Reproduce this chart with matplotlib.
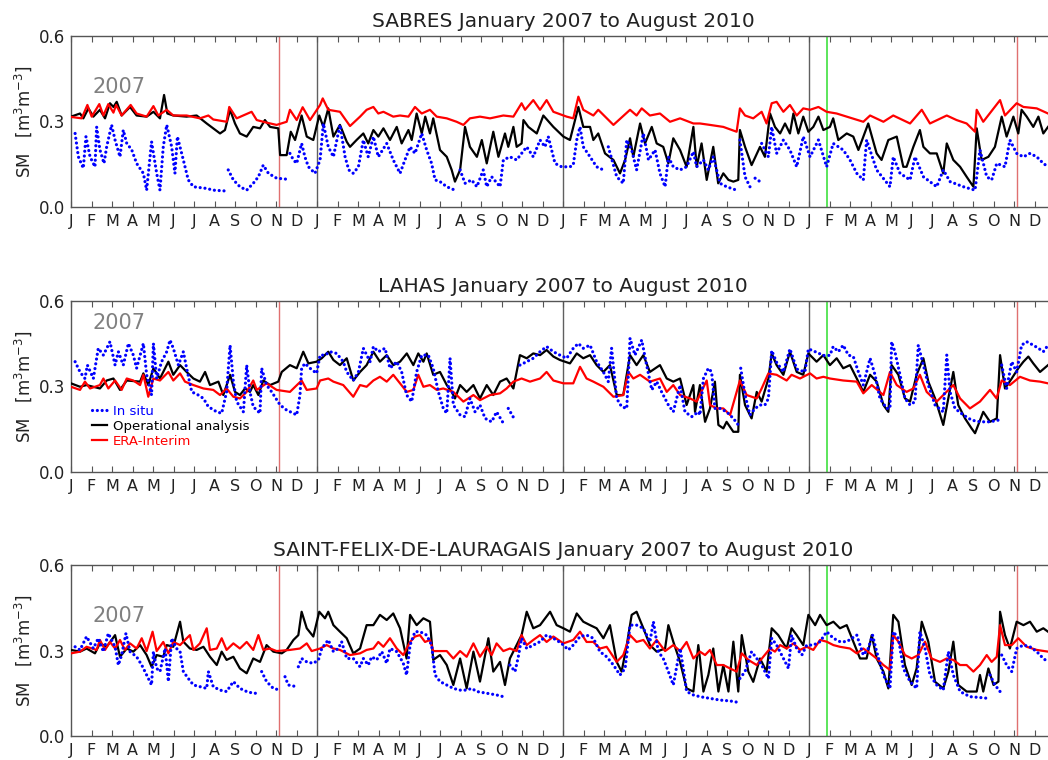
import numpy as np
import matplotlib
matplotlib.use('Agg')
import matplotlib.pyplot as plt
from matplotlib.lines import Line2D

nan = float('nan')

# x = months since 1 January 2007, y = soil moisture (m3/m3); (nan, nan) = gap in the record
sites = ['SABRES', 'LAHAS', 'SAINT-FELIX-DE-LAURAGAIS']
month_letters = list('JFMAMJJASOND')
year_starts = [12, 24, 36]
red_marks = [10.15, 46.15]
green_marks = [36.9]
series_names = ['In situ', 'Operational analysis', 'ERA-Interim']

sab_situ = [
    (0.20, 0.257), (0.36, 0.175), (0.60, 0.135), (0.73, 0.246), (0.93, 0.175), (1.17, 0.14), (1.25, 0.28),
    (1.41, 0.2), (1.61, 0.152), (1.74, 0.21), (1.98, 0.287), (2.15, 0.234), (2.39, 0.175), (2.55, 0.269),
    (2.72, 0.222), (2.96, 0.2), (3.20, 0.152), (3.53, 0.117), (3.69, 0.058), (3.93, 0.228), (4.18, 0.117),
    (4.34, 0.058), (4.50, 0.21), (4.67, 0.287), (4.91, 0.21), (5.07, 0.117), (5.19, 0.246), (5.48, 0.164),
    (5.72, 0.094), (5.97, 0.07), (6.62, 0.064), (6.94, 0.058), (7.59, 0.055), (nan, nan),
    (7.67, 0.129), (7.92, 0.094), (8.24, 0.07), (8.57, 0.058), (8.89, 0.082), (9.14, 0.105), (9.38, 0.146),
    (9.63, 0.117), (10.03, 0.1), (10.60, 0.096), (nan, nan),
    (10.68, 0.187), (10.85, 0.164), (11.01, 0.152), (11.25, 0.222), (11.41, 0.175), (11.58, 0.14),
    (11.90, 0.117), (12.15, 0.164), (12.31, 0.292), (12.55, 0.21), (12.80, 0.175), (13.12, 0.287),
    (13.37, 0.175), (13.55, 0.129), (13.77, 0.117), (14.02, 0.14), (14.26, 0.234), (14.50, 0.175),
    (14.75, 0.246), (14.99, 0.175), (15.40, 0.222), (15.72, 0.164), (16.05, 0.117), (16.29, 0.164),
    (16.54, 0.21), (16.78, 0.187), (17.11, 0.257), (17.35, 0.199), (17.59, 0.152), (17.76, 0.094),
    (18.00, 0.088), (18.33, 0.07), (18.73, 0.058), (nan, nan),
    (18.98, 0.129), (19.22, 0.082), (19.54, 0.094), (19.80, 0.07), (20.11, 0.129), (20.28, 0.07),
    (20.52, 0.105), (20.93, 0.07), (21.09, 0.164), (21.41, 0.175), (21.74, 0.164), (21.98, 0.187),
    (22.23, 0.21), (22.55, 0.175), (22.88, 0.234), (23.12, 0.21), (23.28, 0.246), (23.61, 0.152),
    (23.93, 0.14), (24.34, 0.14), (24.50, 0.146), (24.67, 0.234), (24.83, 0.28), (24.99, 0.21),
    (25.32, 0.175), (25.64, 0.14), (25.97, 0.129), (nan, nan),
    (26.21, 0.21), (26.62, 0.105), (26.94, 0.082), (27.11, 0.234), (27.35, 0.199), (27.59, 0.129),
    (27.92, 0.257), (28.17, 0.164), (28.49, 0.199), (28.73, 0.117), (28.98, 0.07), (29.14, 0.175),
    (29.38, 0.14), (29.71, 0.129), (30.03, 0.14), (30.36, 0.193), (30.52, 0.14), (30.85, 0.164),
    (31.09, 0.129), (31.33, 0.175), (31.66, 0.082), (31.98, 0.07), (32.47, 0.058), (nan, nan),
    (32.63, 0.234), (32.88, 0.105), (33.12, 0.07), (nan, nan),
    (33.37, 0.1), (33.61, 0.088), (nan, nan),
    (33.69, 0.222), (34.02, 0.175), (34.18, 0.28), (34.42, 0.187), (34.75, 0.234), (35.07, 0.199),
    (35.40, 0.14), (35.72, 0.246), (36.05, 0.175), (36.46, 0.234), (36.86, 0.14), (37.18, 0.222),
    (37.67, 0.199), (38.00, 0.164), (38.33, 0.117), (38.65, 0.094), (38.81, 0.234), (39.30, 0.129),
    (39.95, 0.07), (40.11, 0.175), (40.44, 0.117), (40.93, 0.094), (41.17, 0.175), (41.58, 0.105),
    (42.23, 0.07), (42.55, 0.129), (42.88, 0.088), (43.53, 0.07), (44.10, 0.058), (44.34, 0.199),
    (44.67, 0.105), (44.91, 0.094), (45.16, 0.152), (45.56, 0.14), (45.80, 0.234), (46.13, 0.187),
    (46.46, 0.175), (46.78, 0.187), (47.11, 0.175), (47.43, 0.152), (47.66, 0.14),
]

sab_oa = [
    (0.00, 0.316), (0.44, 0.327), (0.60, 0.31), (0.85, 0.345), (1.09, 0.316), (1.41, 0.34), (1.66, 0.31),
    (1.90, 0.363), (2.07, 0.35), (2.23, 0.368), (2.47, 0.32), (2.88, 0.35), (3.20, 0.32), (3.69, 0.316),
    (4.02, 0.333), (4.34, 0.31), (4.54, 0.392), (4.70, 0.327), (4.99, 0.32), (5.64, 0.316), (6.13, 0.32),
    (6.62, 0.292), (7.27, 0.257), (7.51, 0.269), (7.76, 0.34), (8.00, 0.292), (8.24, 0.257), (8.57, 0.246),
    (8.89, 0.28), (9.22, 0.275), (9.46, 0.304), (9.71, 0.28), (10.11, 0.275), (10.20, 0.181),
    (10.52, 0.181), (10.72, 0.263), (10.93, 0.234), (11.25, 0.32), (11.50, 0.246), (11.82, 0.234),
    (12.11, 0.32), (12.31, 0.28), (12.55, 0.345), (12.80, 0.246), (13.12, 0.287), (13.45, 0.228),
    (13.61, 0.21), (13.93, 0.234), (14.26, 0.257), (14.50, 0.222), (14.75, 0.269), (14.99, 0.246),
    (15.24, 0.275), (15.56, 0.234), (15.89, 0.28), (16.13, 0.222), (16.46, 0.269), (16.62, 0.234),
    (16.86, 0.327), (17.11, 0.257), (17.28, 0.316), (17.51, 0.257), (17.67, 0.31), (18.00, 0.199),
    (18.33, 0.175), (18.57, 0.129), (18.73, 0.088), (18.98, 0.129), (19.22, 0.28), (19.46, 0.21),
    (19.80, 0.175), (20.04, 0.234), (20.28, 0.152), (20.60, 0.263), (20.85, 0.175), (21.17, 0.257),
    (21.33, 0.21), (21.58, 0.28), (21.74, 0.21), (21.98, 0.222), (22.07, 0.304), (22.31, 0.28),
    (22.72, 0.257), (23.04, 0.32), (23.53, 0.28), (24.02, 0.246), (24.34, 0.234), (24.59, 0.304),
    (24.75, 0.35), (24.99, 0.28), (25.32, 0.28), (25.48, 0.234), (25.72, 0.257), (26.05, 0.187),
    (26.46, 0.164), (26.78, 0.117), (27.03, 0.164), (27.27, 0.24), (27.43, 0.175), (27.76, 0.292),
    (28.00, 0.222), (28.33, 0.28), (28.57, 0.222), (28.89, 0.21), (29.14, 0.152), (29.38, 0.24),
    (29.71, 0.199), (30.03, 0.14), (30.36, 0.28), (30.52, 0.14), (30.76, 0.222), (31.01, 0.094),
    (31.33, 0.21), (31.57, 0.082), (31.82, 0.117), (32.07, 0.094), (32.31, 0.088), (32.55, 0.094),
    (32.63, 0.269), (32.88, 0.21), (33.20, 0.146), (33.61, 0.21), (33.85, 0.175), (34.10, 0.327),
    (34.34, 0.28), (34.59, 0.257), (34.83, 0.292), (35.07, 0.257), (35.24, 0.327), (35.48, 0.257),
    (35.72, 0.316), (35.97, 0.263), (36.21, 0.28), (36.46, 0.316), (36.70, 0.269), (37.02, 0.28),
    (37.18, 0.31), (37.43, 0.234), (37.84, 0.257), (38.16, 0.246), (38.41, 0.199), (38.89, 0.292),
    (39.30, 0.187), (39.54, 0.164), (39.87, 0.234), (40.28, 0.246), (40.60, 0.14), (40.76, 0.14),
    (41.09, 0.21), (41.41, 0.269), (41.58, 0.21), (41.90, 0.187), (42.23, 0.187), (42.55, 0.117),
    (42.72, 0.222), (43.04, 0.164), (43.37, 0.14), (43.69, 0.105), (44.02, 0.07), (44.18, 0.275),
    (44.42, 0.164), (44.75, 0.175), (45.07, 0.21), (45.40, 0.316), (45.64, 0.246), (45.97, 0.316),
    (46.21, 0.257), (46.37, 0.34), (46.62, 0.316), (46.94, 0.28), (47.19, 0.316), (47.43, 0.257),
    (47.66, 0.28),
]

sab_era = [
    (0.00, 0.315), (0.52, 0.31), (0.80, 0.357), (1.01, 0.316), (1.38, 0.36), (1.58, 0.32), (1.82, 0.36),
    (2.07, 0.33), (2.20, 0.357), (2.47, 0.32), (2.91, 0.357), (3.20, 0.327), (3.69, 0.316), (4.02, 0.353),
    (4.26, 0.32), (4.67, 0.34), (4.99, 0.32), (5.64, 0.32), (6.29, 0.31), (6.70, 0.32), (6.94, 0.306),
    (7.59, 0.298), (7.72, 0.35), (8.08, 0.31), (8.81, 0.333), (9.06, 0.304), (9.54, 0.295), (10.03, 0.287),
    (10.52, 0.298), (10.68, 0.34), (11.01, 0.304), (11.30, 0.349), (11.66, 0.304), (12.15, 0.357),
    (12.28, 0.38), (12.55, 0.34), (13.12, 0.333), (13.61, 0.283), (14.10, 0.316), (14.42, 0.34),
    (14.75, 0.35), (14.99, 0.327), (15.24, 0.333), (15.72, 0.316), (16.05, 0.32), (16.46, 0.316),
    (16.78, 0.35), (17.11, 0.327), (17.51, 0.34), (17.84, 0.316), (18.33, 0.31), (18.81, 0.298),
    (19.14, 0.287), (19.46, 0.31), (19.95, 0.316), (20.44, 0.31), (21.09, 0.32), (21.58, 0.316),
    (21.98, 0.363), (22.15, 0.34), (22.55, 0.374), (22.88, 0.34), (23.20, 0.374), (23.53, 0.333),
    (24.18, 0.316), (24.50, 0.31), (24.75, 0.386), (24.99, 0.34), (25.48, 0.32), (25.72, 0.34),
    (26.46, 0.287), (27.27, 0.34), (27.59, 0.32), (27.84, 0.345), (28.24, 0.32), (28.73, 0.327),
    (29.22, 0.298), (29.71, 0.31), (30.36, 0.292), (30.68, 0.292), (31.17, 0.287), (31.82, 0.28),
    (32.47, 0.263), (32.63, 0.345), (32.88, 0.32), (33.28, 0.31), (33.69, 0.333), (33.93, 0.292),
    (34.18, 0.363), (34.42, 0.368), (34.75, 0.333), (35.07, 0.357), (35.40, 0.32), (35.72, 0.345),
    (36.05, 0.34), (36.46, 0.35), (36.86, 0.333), (37.35, 0.327), (37.84, 0.316), (38.65, 0.298),
    (38.98, 0.32), (39.63, 0.298), (40.11, 0.32), (40.93, 0.292), (41.50, 0.34), (41.90, 0.292),
    (42.72, 0.32), (43.20, 0.304), (43.69, 0.292), (44.10, 0.263), (44.18, 0.34), (44.50, 0.298),
    (45.32, 0.374), (45.56, 0.32), (46.13, 0.363), (46.46, 0.35), (47.11, 0.345), (47.66, 0.327),
]

lah_situ = [
    (0.20, 0.386), (0.44, 0.35), (0.68, 0.327), (0.80, 0.374), (1.09, 0.327), (1.33, 0.433), (1.58, 0.409),
    (1.90, 0.456), (2.15, 0.374), (2.31, 0.421), (2.55, 0.374), (2.80, 0.45), (3.04, 0.409), (3.20, 0.363),
    (3.53, 0.45), (3.69, 0.34), (3.93, 0.269), (4.02, 0.45), (4.18, 0.327), (4.42, 0.386), (4.67, 0.421),
    (4.83, 0.462), (4.99, 0.433), (5.24, 0.374), (5.48, 0.421), (5.64, 0.363), (5.89, 0.28), (6.21, 0.269),
    (6.46, 0.257), (6.70, 0.228), (7.11, 0.21), (7.35, 0.205), (7.59, 0.28), (7.76, 0.444), (7.92, 0.316),
    (8.08, 0.246), (8.41, 0.21), (8.57, 0.374), (8.73, 0.28), (8.89, 0.228), (9.22, 0.205), (9.30, 0.363),
    (9.54, 0.304), (9.79, 0.28), (10.20, 0.234), (10.52, 0.216), (10.85, 0.205), (11.01, 0.199),
    (11.17, 0.269), (11.25, 0.363), (11.41, 0.38), (11.66, 0.363), (11.98, 0.345), (12.15, 0.409),
    (12.39, 0.409), (12.63, 0.421), (12.96, 0.415), (13.28, 0.386), (13.45, 0.35), (13.77, 0.32),
    (14.02, 0.35), (14.26, 0.433), (14.59, 0.386), (14.75, 0.439), (14.99, 0.421), (15.32, 0.433),
    (15.56, 0.363), (15.89, 0.386), (16.13, 0.35), (16.37, 0.269), (16.62, 0.246), (16.86, 0.35),
    (17.11, 0.409), (17.43, 0.409), (17.67, 0.363), (17.92, 0.28), (18.16, 0.222), (18.33, 0.205),
    (18.49, 0.398), (18.65, 0.234), (18.98, 0.199), (19.22, 0.193), (19.46, 0.257), (19.71, 0.21),
    (19.95, 0.234), (20.20, 0.187), (20.52, 0.175), (20.76, 0.21), (21.09, 0.17), (nan, nan),
    (21.33, 0.222), (21.66, 0.181), (nan, nan),
    (21.90, 0.374), (22.23, 0.386), (22.55, 0.398), (22.88, 0.421), (23.20, 0.439), (23.53, 0.421),
    (23.85, 0.409), (24.18, 0.398), (24.50, 0.433), (24.75, 0.45), (24.99, 0.433), (25.32, 0.444),
    (25.64, 0.386), (25.97, 0.35), (26.21, 0.316), (26.37, 0.433), (26.62, 0.257), (26.86, 0.228),
    (27.11, 0.222), (27.27, 0.468), (27.51, 0.409), (27.84, 0.462), (28.08, 0.374), (28.33, 0.287),
    (28.57, 0.316), (28.81, 0.28), (29.14, 0.234), (29.38, 0.21), (29.71, 0.304), (29.95, 0.21),
    (30.28, 0.193), (30.60, 0.21), (30.68, 0.199), (30.85, 0.327), (31.09, 0.363), (31.25, 0.35),
    (31.41, 0.222), (31.66, 0.222), (31.98, 0.21), (32.31, 0.187), (32.55, 0.164), (nan, nan),
    (32.67, 0.363), (32.88, 0.269), (33.12, 0.199), (33.37, 0.222), (33.61, 0.234), (33.85, 0.234),
    (34.02, 0.257), (34.18, 0.425), (34.42, 0.384), (34.75, 0.35), (35.07, 0.431), (35.40, 0.36),
    (35.80, 0.35), (35.97, 0.431), (36.37, 0.419), (36.70, 0.408), (37.02, 0.408), (37.18, 0.439),
    (37.43, 0.421), (37.67, 0.444), (37.92, 0.409), (38.16, 0.404), (38.41, 0.35), (38.65, 0.304),
    (38.98, 0.398), (39.22, 0.34), (39.46, 0.257), (39.79, 0.222), (39.95, 0.222), (40.03, 0.456),
    (40.19, 0.421), (40.44, 0.34), (40.68, 0.257), (40.93, 0.234), (41.17, 0.246), (41.33, 0.444),
    (41.58, 0.374), (41.82, 0.304), (42.15, 0.234), (42.55, 0.21), (42.72, 0.409), (42.88, 0.28),
    (43.12, 0.222), (43.53, 0.199), (43.93, 0.181), (44.34, 0.175), (44.83, 0.175), (45.24, 0.181),
    (nan, nan),
    (45.40, 0.374), (45.64, 0.292), (45.89, 0.386), (46.13, 0.35), (46.37, 0.444), (46.62, 0.456),
    (46.94, 0.444), (47.19, 0.433), (47.43, 0.421), (47.66, 0.444),
]

lah_oa = [
    (0.00, 0.31), (0.44, 0.298), (0.76, 0.304), (1.41, 0.292), (1.74, 0.32), (2.07, 0.327), (2.39, 0.287),
    (2.72, 0.32), (3.37, 0.316), (3.53, 0.345), (3.77, 0.304), (4.02, 0.363), (4.34, 0.327), (4.75, 0.386),
    (4.99, 0.34), (5.32, 0.374), (5.64, 0.35), (5.97, 0.327), (6.29, 0.316), (6.54, 0.35), (6.78, 0.304),
    (7.19, 0.316), (7.43, 0.269), (7.76, 0.34), (8.00, 0.28), (8.24, 0.269), (8.49, 0.292), (8.73, 0.28),
    (8.89, 0.304), (9.14, 0.269), (9.38, 0.32), (9.71, 0.304), (10.11, 0.316), (10.28, 0.35),
    (10.68, 0.374), (11.01, 0.363), (11.33, 0.421), (11.58, 0.38), (11.98, 0.386), (12.23, 0.398),
    (12.55, 0.421), (12.80, 0.392), (13.12, 0.374), (13.45, 0.398), (13.77, 0.32), (14.10, 0.35),
    (14.42, 0.374), (14.75, 0.421), (15.07, 0.386), (15.40, 0.409), (15.72, 0.374), (16.05, 0.386),
    (16.38, 0.415), (16.70, 0.374), (16.94, 0.415), (17.19, 0.386), (17.35, 0.415), (17.67, 0.34),
    (18.00, 0.35), (18.33, 0.304), (18.57, 0.28), (18.73, 0.257), (18.98, 0.304), (19.30, 0.28),
    (19.63, 0.304), (19.95, 0.257), (20.28, 0.304), (20.60, 0.269), (20.93, 0.316), (21.25, 0.327),
    (21.58, 0.292), (21.90, 0.409), (22.23, 0.398), (22.55, 0.415), (22.88, 0.409), (23.20, 0.427),
    (23.53, 0.404), (23.85, 0.392), (24.34, 0.38), (24.67, 0.415), (24.99, 0.398), (25.32, 0.409),
    (25.64, 0.374), (25.97, 0.35), (26.29, 0.374), (26.62, 0.269), (26.94, 0.269), (27.27, 0.409),
    (27.59, 0.374), (27.92, 0.409), (28.24, 0.35), (28.73, 0.374), (29.06, 0.327), (29.38, 0.316),
    (29.71, 0.327), (30.03, 0.234), (30.36, 0.304), (30.44, 0.21), (30.68, 0.304), (30.93, 0.175),
    (31.17, 0.222), (31.41, 0.316), (31.58, 0.164), (31.82, 0.152), (31.98, 0.175), (32.31, 0.14),
    (32.55, 0.14), (32.63, 0.34), (32.88, 0.234), (33.20, 0.187), (33.45, 0.28), (33.69, 0.246),
    (34.02, 0.327), (34.18, 0.415), (34.42, 0.374), (34.75, 0.34), (35.07, 0.421), (35.40, 0.35),
    (35.72, 0.34), (35.97, 0.415), (36.37, 0.386), (36.70, 0.409), (37.02, 0.374), (37.35, 0.398),
    (37.67, 0.363), (38.00, 0.374), (38.33, 0.327), (38.65, 0.28), (38.98, 0.34), (39.30, 0.316),
    (39.63, 0.234), (39.87, 0.21), (40.03, 0.374), (40.36, 0.34), (40.68, 0.257), (40.93, 0.246),
    (41.25, 0.34), (41.58, 0.398), (41.82, 0.316), (42.15, 0.257), (42.55, 0.164), (43.04, 0.35),
    (43.28, 0.234), (43.61, 0.187), (43.93, 0.152), (44.10, 0.135), (44.50, 0.21), (44.83, 0.175),
    (45.16, 0.187), (45.32, 0.409), (45.56, 0.292), (45.89, 0.327), (46.21, 0.363), (46.46, 0.386),
    (46.70, 0.404), (46.94, 0.38), (47.27, 0.35), (47.66, 0.374),
]

lah_era = [
    (0.00, 0.298), (0.44, 0.287), (0.68, 0.316), (0.93, 0.292), (1.41, 0.304), (1.58, 0.327), (1.82, 0.292),
    (2.15, 0.32), (2.47, 0.287), (2.72, 0.327), (3.04, 0.32), (3.37, 0.304), (3.53, 0.34), (3.77, 0.263),
    (4.02, 0.327), (4.34, 0.32), (4.75, 0.35), (4.99, 0.32), (5.32, 0.345), (5.56, 0.316), (5.97, 0.304),
    (6.46, 0.292), (6.94, 0.287), (7.27, 0.269), (7.59, 0.292), (7.92, 0.263), (8.24, 0.257), (8.57, 0.28),
    (8.89, 0.32), (9.06, 0.287), (9.54, 0.31), (10.03, 0.287), (10.68, 0.28), (11.25, 0.32), (11.50, 0.287),
    (11.98, 0.292), (12.15, 0.32), (12.55, 0.327), (12.80, 0.316), (13.28, 0.304), (13.77, 0.263),
    (14.10, 0.304), (14.42, 0.298), (14.75, 0.32), (15.07, 0.333), (15.40, 0.316), (15.72, 0.34),
    (16.05, 0.31), (16.38, 0.28), (16.70, 0.287), (16.94, 0.34), (17.19, 0.298), (17.51, 0.304),
    (17.84, 0.287), (18.16, 0.292), (18.65, 0.28), (19.14, 0.246), (19.63, 0.269), (19.95, 0.251),
    (20.44, 0.269), (20.93, 0.275), (21.25, 0.292), (21.58, 0.316), (21.98, 0.327), (22.39, 0.316),
    (22.88, 0.327), (23.20, 0.35), (23.53, 0.32), (24.02, 0.31), (24.50, 0.31), (24.83, 0.368),
    (25.15, 0.327), (25.48, 0.316), (25.97, 0.298), (26.46, 0.263), (26.94, 0.269), (27.19, 0.35),
    (27.43, 0.327), (27.76, 0.34), (28.24, 0.316), (28.73, 0.327), (29.06, 0.28), (29.38, 0.304),
    (29.71, 0.269), (30.20, 0.257), (30.52, 0.246), (31.01, 0.32), (31.17, 0.234), (31.50, 0.222),
    (31.82, 0.222), (32.15, 0.199), (32.63, 0.32), (32.96, 0.269), (33.45, 0.257), (33.69, 0.292),
    (34.02, 0.345), (34.42, 0.34), (34.91, 0.32), (35.15, 0.34), (35.56, 0.327), (36.05, 0.345),
    (36.37, 0.327), (36.70, 0.333), (37.02, 0.327), (37.67, 0.32), (38.33, 0.316), (38.65, 0.275),
    (39.06, 0.304), (39.63, 0.269), (39.95, 0.35), (40.28, 0.304), (40.76, 0.28), (41.09, 0.292),
    (41.41, 0.34), (41.74, 0.28), (42.23, 0.246), (43.04, 0.304), (43.37, 0.257), (43.85, 0.222),
    (44.34, 0.246), (44.83, 0.287), (45.15, 0.257), (45.40, 0.32), (45.80, 0.304), (46.29, 0.333),
    (46.78, 0.32), (47.27, 0.316), (47.66, 0.31),
]

sfl_situ = [
    (0.20, 0.313), (0.44, 0.302), (0.76, 0.349), (1.09, 0.307), (1.33, 0.343), (1.58, 0.296), (1.82, 0.36),
    (2.15, 0.313), (2.31, 0.249), (2.47, 0.284), (2.68, 0.36), (2.88, 0.296), (3.20, 0.278), (3.45, 0.249),
    (3.69, 0.214), (3.93, 0.179), (4.02, 0.296), (4.18, 0.237), (4.34, 0.226), (4.59, 0.307), (4.75, 0.191),
    (4.91, 0.343), (5.15, 0.307), (5.32, 0.296), (5.48, 0.226), (5.72, 0.202), (5.97, 0.179),
    (6.29, 0.173), (6.62, 0.167), (6.70, 0.226), (6.94, 0.173), (7.27, 0.161), (7.59, 0.156),
    (7.92, 0.191), (8.24, 0.167), (8.57, 0.156), (8.89, 0.15), (9.22, 0.15), (nan, nan),
    (9.30, 0.226), (9.54, 0.191), (9.87, 0.167), (10.20, 0.161), (nan, nan),
    (10.44, 0.208), (10.60, 0.179), (11.01, 0.173), (nan, nan),
    (11.09, 0.243), (11.25, 0.272), (11.50, 0.26), (11.82, 0.255), (12.07, 0.267), (12.23, 0.307),
    (12.55, 0.337), (12.80, 0.296), (13.04, 0.307), (13.20, 0.331), (13.45, 0.272), (13.77, 0.272),
    (14.10, 0.243), (14.26, 0.272), (14.50, 0.249), (14.67, 0.278), (14.91, 0.267), (15.16, 0.296),
    (15.40, 0.255), (15.56, 0.307), (15.89, 0.296), (16.21, 0.255), (16.37, 0.214), (16.54, 0.319),
    (16.78, 0.366), (17.02, 0.366), (17.35, 0.354), (17.59, 0.319), (17.76, 0.214), (18.00, 0.191),
    (18.33, 0.179), (18.65, 0.167), (18.98, 0.161), (19.30, 0.161), (19.54, 0.167), (19.80, 0.156),
    (20.28, 0.15), (20.76, 0.144), (21.09, 0.138), (nan, nan),
    (21.41, 0.249), (21.66, 0.226), (21.82, 0.278), (21.98, 0.343), (22.23, 0.307), (22.55, 0.319),
    (22.88, 0.331), (23.20, 0.354), (23.53, 0.343), (23.93, 0.325), (24.26, 0.302), (24.50, 0.319),
    (24.83, 0.349), (25.15, 0.354), (25.48, 0.343), (25.80, 0.296), (26.13, 0.278), (26.46, 0.249),
    (26.78, 0.214), (27.03, 0.237), (27.27, 0.389), (27.59, 0.389), (27.92, 0.378), (28.24, 0.331),
    (28.41, 0.401), (28.65, 0.296), (28.89, 0.272), (29.14, 0.226), (29.38, 0.179), (29.71, 0.307),
    (29.87, 0.237), (30.03, 0.156), (30.36, 0.144), (30.68, 0.138), (31.17, 0.132), (31.66, 0.126),
    (32.15, 0.123), (32.55, 0.118), (nan, nan),
    (32.63, 0.202), (32.88, 0.226), (33.20, 0.296), (33.45, 0.272), (33.69, 0.249), (34.02, 0.202),
    (34.18, 0.343), (34.42, 0.319), (34.75, 0.272), (35.00, 0.237), (35.15, 0.354), (35.40, 0.307),
    (35.65, 0.284), (35.89, 0.319), (36.21, 0.319), (36.54, 0.331), (36.86, 0.366), (37.19, 0.343),
    (37.51, 0.331), (37.84, 0.331), (38.33, 0.354), (38.65, 0.284), (38.89, 0.307), (39.10, 0.354),
    (39.30, 0.296), (39.63, 0.214), (39.95, 0.167), (40.11, 0.366), (40.36, 0.343), (40.60, 0.237),
    (40.93, 0.191), (41.25, 0.167), (41.41, 0.366), (41.66, 0.307), (41.90, 0.214), (42.23, 0.179),
    (42.55, 0.161), (42.80, 0.296), (43.04, 0.214), (43.37, 0.156), (43.85, 0.138), (44.34, 0.135),
    (44.75, 0.132), (nan, nan),
    (44.83, 0.214), (45.07, 0.179), (45.32, 0.156), (nan, nan),
    (45.40, 0.284), (45.64, 0.249), (45.89, 0.226), (46.13, 0.307), (46.46, 0.319), (46.78, 0.313),
    (47.11, 0.296), (47.43, 0.272), (47.66, 0.26),
]

sfl_oa = [
    (0.00, 0.302), (0.44, 0.296), (0.76, 0.307), (1.17, 0.29), (1.41, 0.325), (1.74, 0.313), (2.15, 0.354),
    (2.39, 0.278), (2.72, 0.307), (3.04, 0.296), (3.37, 0.319), (3.69, 0.284), (3.93, 0.243), (4.18, 0.284),
    (4.50, 0.278), (4.67, 0.319), (4.99, 0.313), (5.32, 0.401), (5.48, 0.331), (5.80, 0.307), (6.13, 0.302),
    (6.46, 0.313), (6.78, 0.278), (7.11, 0.249), (7.35, 0.296), (7.59, 0.267), (7.92, 0.278), (8.24, 0.237),
    (8.57, 0.22), (8.89, 0.272), (9.22, 0.26), (9.54, 0.319), (9.87, 0.296), (10.28, 0.29), (10.52, 0.302),
    (10.85, 0.337), (11.09, 0.354), (11.25, 0.436), (11.50, 0.378), (11.82, 0.349), (12.11, 0.436),
    (12.39, 0.413), (12.55, 0.436), (12.80, 0.389), (13.12, 0.366), (13.45, 0.343), (13.77, 0.29),
    (14.10, 0.307), (14.42, 0.389), (14.75, 0.389), (15.07, 0.425), (15.40, 0.407), (15.72, 0.43),
    (16.05, 0.378), (16.37, 0.272), (16.54, 0.425), (16.86, 0.389), (17.19, 0.413), (17.51, 0.401),
    (17.67, 0.267), (18.00, 0.284), (18.33, 0.249), (18.65, 0.179), (18.98, 0.272), (19.30, 0.167),
    (19.63, 0.296), (19.95, 0.191), (20.36, 0.343), (20.60, 0.226), (20.93, 0.26), (21.17, 0.179),
    (21.41, 0.272), (21.74, 0.319), (21.98, 0.354), (22.23, 0.436), (22.55, 0.378), (22.88, 0.389),
    (23.37, 0.436), (23.69, 0.389), (24.02, 0.378), (24.34, 0.366), (24.67, 0.43), (24.99, 0.401),
    (25.32, 0.389), (25.64, 0.378), (25.97, 0.343), (26.29, 0.389), (26.62, 0.26), (26.86, 0.226),
    (27.11, 0.319), (27.35, 0.425), (27.59, 0.436), (27.92, 0.378), (28.24, 0.319), (28.57, 0.296),
    (28.98, 0.307), (29.14, 0.389), (29.38, 0.331), (29.71, 0.26), (30.03, 0.167), (30.36, 0.156),
    (30.60, 0.319), (30.68, 0.272), (30.85, 0.156), (31.09, 0.214), (31.33, 0.307), (31.58, 0.156),
    (31.82, 0.249), (32.07, 0.156), (32.31, 0.331), (32.55, 0.156), (32.72, 0.354), (33.04, 0.226),
    (33.28, 0.19), (33.61, 0.272), (33.93, 0.226), (34.18, 0.378), (34.50, 0.354), (34.91, 0.307),
    (35.15, 0.378), (35.40, 0.354), (35.72, 0.319), (35.97, 0.425), (36.30, 0.389), (36.54, 0.425),
    (36.86, 0.389), (37.19, 0.401), (37.51, 0.378), (37.84, 0.389), (38.16, 0.331), (38.49, 0.272),
    (38.81, 0.272), (39.06, 0.354), (39.30, 0.272), (39.63, 0.226), (39.87, 0.167), (40.11, 0.425),
    (40.36, 0.401), (40.68, 0.249), (41.01, 0.179), (41.25, 0.237), (41.50, 0.401), (41.82, 0.331),
    (42.15, 0.19), (42.55, 0.167), (42.80, 0.226), (43.04, 0.331), (43.28, 0.179), (43.69, 0.156),
    (44.18, 0.156), (44.34, 0.214), (44.50, 0.156), (44.75, 0.237), (45.00, 0.179), (45.24, 0.191),
    (45.32, 0.436), (45.56, 0.354), (45.80, 0.307), (46.13, 0.401), (46.46, 0.389), (46.78, 0.401),
    (47.11, 0.366), (47.43, 0.378), (47.66, 0.366),
]

sfl_era = [
    (0.00, 0.29), (0.44, 0.296), (0.76, 0.313), (1.25, 0.302), (1.41, 0.337), (1.66, 0.302), (1.90, 0.33),
    (2.15, 0.307), (2.39, 0.337), (2.63, 0.302), (2.88, 0.325), (3.20, 0.307), (3.45, 0.343), (3.69, 0.298),
    (3.98, 0.366), (4.18, 0.298), (4.50, 0.33), (4.75, 0.29), (4.99, 0.33), (5.32, 0.319), (5.56, 0.337),
    (5.80, 0.354), (5.97, 0.302), (6.29, 0.325), (6.62, 0.378), (6.78, 0.302), (7.11, 0.307), (7.35, 0.343),
    (7.59, 0.302), (7.92, 0.325), (8.24, 0.307), (8.57, 0.33), (8.89, 0.302), (9.14, 0.354), (9.38, 0.302),
    (9.71, 0.307), (10.03, 0.298), (10.68, 0.302), (11.17, 0.307), (11.50, 0.325), (11.74, 0.298),
    (12.15, 0.307), (12.47, 0.319), (12.80, 0.307), (13.12, 0.302), (13.45, 0.29), (13.61, 0.284),
    (14.10, 0.29), (14.42, 0.302), (14.75, 0.307), (14.99, 0.33), (15.24, 0.313), (15.56, 0.343),
    (15.89, 0.307), (16.21, 0.284), (16.54, 0.33), (16.78, 0.349), (17.02, 0.354), (17.27, 0.33),
    (17.51, 0.337), (17.67, 0.298), (18.33, 0.298), (18.65, 0.272), (18.98, 0.298), (19.30, 0.278),
    (19.63, 0.325), (19.95, 0.278), (20.28, 0.313), (20.52, 0.284), (20.76, 0.325), (21.09, 0.298),
    (21.41, 0.307), (21.74, 0.298), (21.98, 0.354), (22.23, 0.319), (22.55, 0.337), (22.88, 0.354),
    (23.20, 0.33), (23.53, 0.349), (24.02, 0.325), (24.50, 0.337), (24.83, 0.366), (25.15, 0.33),
    (25.48, 0.33), (25.80, 0.307), (26.13, 0.313), (26.62, 0.26), (26.94, 0.284), (27.27, 0.354),
    (27.59, 0.33), (27.92, 0.337), (28.24, 0.307), (28.57, 0.337), (28.98, 0.298), (29.38, 0.319),
    (29.71, 0.298), (30.03, 0.33), (30.36, 0.272), (30.68, 0.296), (30.93, 0.284), (31.17, 0.302),
    (31.50, 0.249), (31.82, 0.249), (32.15, 0.237), (32.47, 0.226), (32.72, 0.29), (33.04, 0.267),
    (33.45, 0.249), (33.77, 0.278), (34.10, 0.307), (34.34, 0.296), (34.59, 0.319), (34.91, 0.307),
    (35.24, 0.325), (35.56, 0.302), (35.89, 0.313), (36.21, 0.302), (36.54, 0.337), (36.86, 0.331),
    (37.19, 0.319), (37.51, 0.313), (38.00, 0.307), (38.33, 0.29), (38.65, 0.307), (38.98, 0.29),
    (39.30, 0.272), (39.63, 0.249), (39.95, 0.232), (40.11, 0.354), (40.36, 0.331), (40.68, 0.284),
    (41.01, 0.272), (41.33, 0.284), (41.66, 0.331), (41.98, 0.272), (42.39, 0.26), (42.72, 0.272),
    (43.04, 0.267), (43.37, 0.249), (43.69, 0.249), (44.02, 0.226), (44.34, 0.249), (44.67, 0.284),
    (44.91, 0.26), (45.16, 0.278), (45.32, 0.389), (45.56, 0.319), (45.89, 0.319), (46.21, 0.343),
    (46.62, 0.313), (47.11, 0.302), (47.66, 0.296),
]

panels = [
    (sab_situ, sab_oa, sab_era),
    (lah_situ, lah_oa, lah_era),
    (sfl_situ, sfl_oa, sfl_era),
]

# layout in figure fractions (figure is 1048 x 760 px)
ax_left = 71 / 1048
ax_width = 984 / 1048
ax_height = 171 / 760
ax_bottoms = [1 - 206.7 / 760, 1 - 471.7 / 760, 1 - 736 / 760]
year_text_y = [0.40, 0.50, 0.40]

situ_style = dict(color='#0000ff', lw=2.3, ls=(0, (0.01, 1.5)), dash_capstyle='round')
oa_style = dict(color='black', lw=1.6)
era_style = dict(color='#ff0000', lw=1.6)

plt.rcParams['font.family'] = ['DejaVu Sans']

fig = plt.figure(figsize=(10.48, 7.6), dpi=100)

for i, (situ, oa, era) in enumerate(panels):
    ax = fig.add_axes([ax_left, ax_bottoms[i], ax_width, ax_height])

    for x in year_starts:
        ax.axvline(x, color='#606060', lw=1.0, zorder=1)
    for x in red_marks:
        ax.axvline(x, color='#e07070', lw=1.0, zorder=1)
    for x in green_marks:
        ax.axvline(x, color='#40e040', lw=1.2, zorder=1)

    xs, ys = zip(*oa)
    ax.plot(xs, ys, zorder=3, **oa_style)
    xs, ys = zip(*era)
    ax.plot(xs, ys, zorder=4, **era_style)
    xs, ys = zip(*situ)
    ax.plot(xs, ys, zorder=5, **situ_style)

    ax.set_xlim(0, 48)
    ax.set_ylim(0, 0.6)
    ax.set_xticks(range(48))
    ax.set_xticklabels([month_letters[k % 12] for k in range(48)])
    ax.set_yticks([0.0, 0.3, 0.6])
    ax.set_yticklabels(['0.0', '0.3', '0.6'])
    ax.tick_params(axis='x', direction='in', top=True, length=4, width=0.8,
                   color='#555555', labelsize=11.5, labelcolor='#222222', pad=5)
    ax.tick_params(axis='y', length=0, labelsize=12, labelcolor='#222222', pad=4)
    for sp in ax.spines.values():
        sp.set_color('#555555')
        sp.set_linewidth(1.0)

    ax.set_title(f'{sites[i]} January 2007 to August 2010', fontsize=14.5,
                 color='#222222', pad=6.5)
    ax.set_ylabel('SM   [m$^3$m$^{-3}$]', fontsize=12, color='#222222')
    ax.yaxis.set_label_coords(-0.038, 0.5)
    ax.text(1.06, year_text_y[i], '2007', fontsize=15, color='#808080',
            ha='left', va='baseline')

    if i == 1:
        handles = [Line2D([], [], **situ_style), Line2D([], [], **oa_style),
                   Line2D([], [], **era_style)]
        ax.legend(handles, series_names, loc='upper left', bbox_to_anchor=(0.021, 0.39),
                  frameon=False, fontsize=9.5, handlelength=1.15, handletextpad=0.45,
                  labelspacing=0.14, borderpad=0, borderaxespad=0, labelcolor='linecolor')

fig.savefig('out.png', dpi=100)
